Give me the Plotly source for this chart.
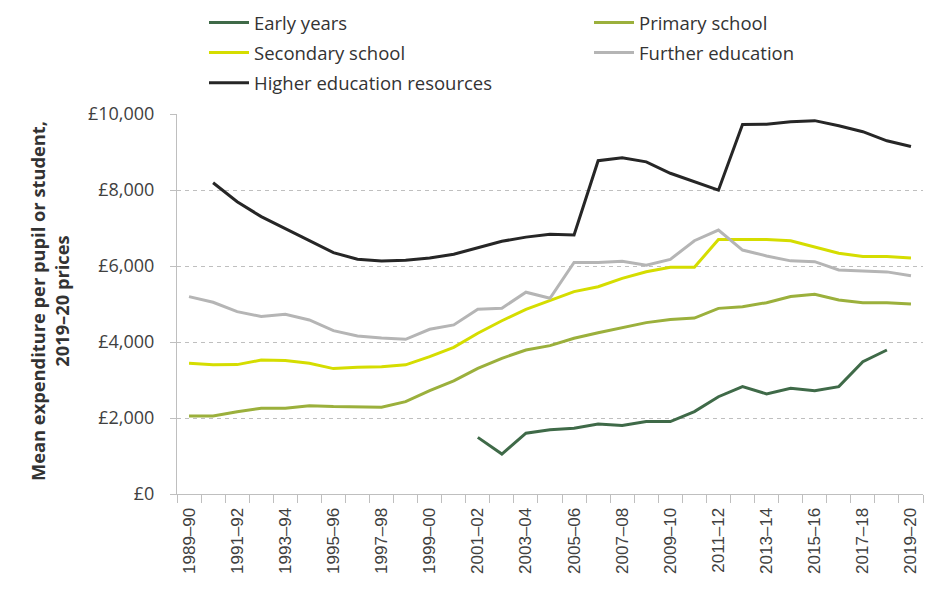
import plotly.graph_objects as go

years = ["1989–90", "1990–91", "1991–92", "1992–93", "1993–94", "1994–95", "1995–96",
         "1996–97", "1997–98", "1998–99", "1999–00", "2000–01", "2001–02", "2002–03",
         "2003–04", "2004–05", "2005–06", "2006–07", "2007–08", "2008–09", "2009–10",
         "2010–11", "2011–12", "2012–13", "2013–14", "2014–15", "2015–16", "2016–17",
         "2017–18", "2018–19", "2019–20"]

early_years = [None] * 12 + [1490, 1050, 1600, 1690, 1730, 1840, 1800, 1905, 1905, 2170,
                             2560, 2825, 2635, 2780, 2720, 2825, 3480, 3790, None]
primary_school = [2055, 2055, 2165, 2255, 2255, 2325, 2300, 2285, 2285, 2430, 2720,
                  2975, 3305, 3570, 3790, 3905, 4100, 4245, 4385, 4510, 4595, 4630,
                  4885, 4930, 5035, 5195, 5255, 5105, 5035, 5035, 5000]
secondary_school = [3440, 3400, 3405, 3525, 3510, 3440, 3300, 3335, 3350, 3400, 3615,
                    3860, 4230, 4560, 4860, 5090, 5325, 5455, 5675, 5850, 5965, 5965,
                    6700, 6700, 6700, 6665, 6510, 6335, 6250, 6250, 6210]
further_education = [5195, 5045, 4800, 4670, 4730, 4580, 4300, 4160, 4105, 4070, 4335,
                     4450, 4860, 4890, 5310, 5150, 6095, 6095, 6125, 6020, 6175, 6665,
                     6945, 6420, 6265, 6135, 6115, 5895, 5870, 5845, 5745]
higher_education = [None, 8190, 7690, 7300, 6980, 6650, 6350, 6180, 6130, 6150, 6210,
                    6310, 6470, 6650, 6760, 6835, 6815, 8770, 8850, 8740, 8440, 8220,
                    7995, 9725, 9730, 9795, 9825, 9690, 9535, 9295, 9145]

tick_labels = [y if i % 2 == 0 else "" for i, y in enumerate(years)]
y_ticks = [0, 2000, 4000, 6000, 8000, 10000]
y_tick_labels = ["£0", "£2,000", "£4,000", "£6,000", "£8,000", "£10,000"]
y_title = "<b>Mean expenditure per pupil or student,<br>2019–20 prices</b>"

series = [
    ("Early years", early_years, "#3F6A48", "legend", "g1"),
    ("Primary school", primary_school, "#9BB03C", "legend2", "g2"),
    ("Secondary school", secondary_school, "#D5DD00", "legend", "g3"),
    ("Further education", further_education, "#B5B5B5", "legend2", "g4"),
    ("Higher education resources", higher_education, "#262626", "legend", "g5"),
]

fig = go.Figure()
for name, vals, color, leg, grp in series:
    fig.add_trace(go.Scatter(
        x=years, y=vals, name=name, mode="lines",
        line=dict(color=color, width=3), legend=leg, legendgroup=grp,
        connectgaps=False,
    ))

W, H = 939, 595
ML, MR, MT, MB = 169, 24, 106, 109
PW, PH = W - ML - MR, H - MT - MB
LEG_TOP = -4  # figure px

legend_common = dict(
    orientation="v", traceorder="grouped", tracegroupgap=3,
    font=dict(family="Open Sans", size=18.5, color="#333333"),
    bgcolor="rgba(0,0,0,0)", xref="container", yref="paper",
    xanchor="left", yanchor="top", itemwidth=40,
    y=1 + (MT - LEG_TOP) / PH,
)

fig.update_layout(
    width=W, height=H, autosize=False,
    margin=dict(l=ML, r=MR, t=MT, b=MB, autoexpand=False),
    plot_bgcolor="white", paper_bgcolor="white",
    font=dict(family="Open Sans", color="#333333"),
    showlegend=True,
    legend=dict(**legend_common, x=196 / W),
    legend2=dict(**legend_common, x=581 / W),
    xaxis=dict(
        type="category", range=[-0.5, 30.5], automargin=False,
        tickmode="array", tickvals=years, ticktext=tick_labels,
        tickson="boundaries", ticks="outside", ticklen=8, tickcolor="#BFBFBF",
        ticklabelstandoff=6,
        tickangle=-90, showgrid=False, showline=True, linecolor="#BFBFBF",
        linewidth=1, zeroline=False,
        tickfont=dict(family="Liberation Sans", size=17, color="#404040"),
    ),
    yaxis=dict(
        range=[0, 10000], automargin=False,
        tickmode="array", tickvals=y_ticks, ticktext=y_tick_labels,
        ticks="outside", ticklen=6, tickcolor="#BFBFBF", ticklabelstandoff=12,
        showgrid=True, gridcolor="#BFBFBF", griddash="4px,4px", gridwidth=1,
        showline=True, linecolor="#BFBFBF", linewidth=1, zeroline=False,
        tickfont=dict(family="Open Sans", size=18, color="#404040"),
    ),
    annotations=[dict(
        text=y_title, textangle=-90, showarrow=False,
        xref="paper", yref="paper",
        x=(41 - ML) / PW, y=(H - MB - 293) / PH,
        xanchor="center", yanchor="middle",
        font=dict(family="Open Sans", size=18.3, color="#333333"),
    )],
)

fig.write_html("out.html")
